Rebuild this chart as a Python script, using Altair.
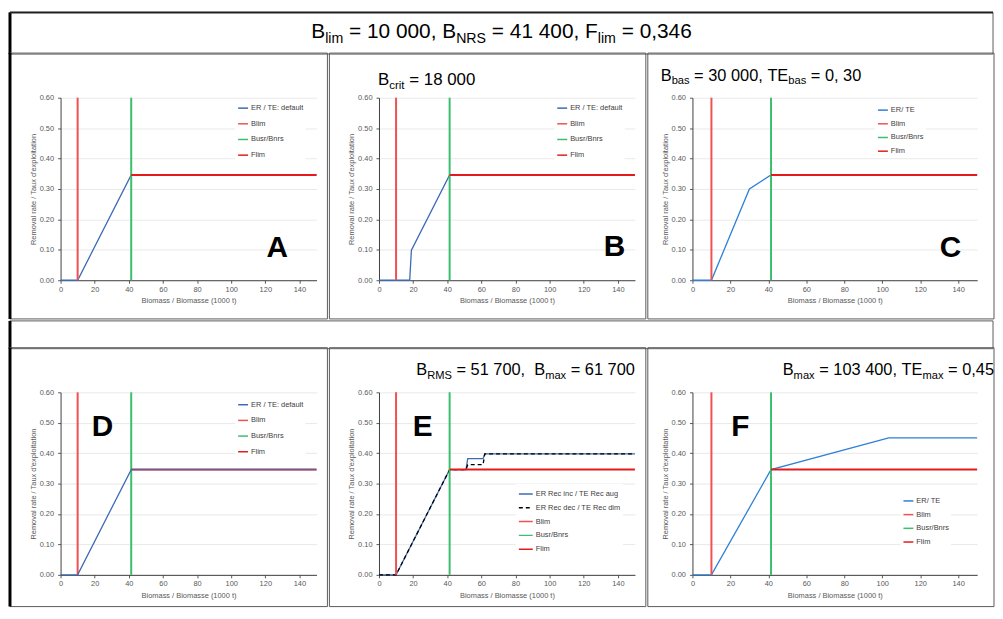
import altair as alt
import pandas as pd

FONT = "Liberation Sans"

# ---------------- data ----------------
X_DOMAIN = [0, 150]
Y_DOMAIN = [0, 0.6]
x_ticks = [0, 20, 40, 60, 80, 100, 120, 140]
y_ticks = [0.0, 0.1, 0.2, 0.3, 0.4, 0.5, 0.6]
X_TITLE = "Biomass / Biomasse (1000 t)"
Y_TITLE = "Removal rate / Taux d'exploitation"

# harvest control rules (biomass in 1000 t, removal rate)
er_default_x = [0, 10, 41.4, 150]
er_default_y = [0, 0, 0.346, 0.346]
er_crit_x = [0, 18, 19, 41.4, 150]
er_crit_y = [0, 0, 0.099, 0.346, 0.346]
er_bas_x = [0, 10, 30, 41.4, 150]
er_bas_y = [0, 0, 0.30, 0.346, 0.346]
er_inc_x = [0, 10, 41.4, 51, 52, 61, 62, 150]
er_inc_y = [0, 0, 0.346, 0.346, 0.382, 0.382, 0.398, 0.398]
er_dec_x = [0, 10, 41.4, 51, 52, 61, 62, 150]
er_dec_y = [0, 0, 0.346, 0.346, 0.362, 0.362, 0.398, 0.398]
er_max_x = [0, 10, 41.4, 103.4, 150]
er_max_y = [0, 0, 0.346, 0.45, 0.45]

# reference lines
blim_x = [10, 10]
blim_y = [0, 0.6]
busr_x = [41.4, 41.4]
busr_y = [0, 0.6]
flim_x = [41.4, 150]
flim_y = [0.346, 0.346]

labels_default = ["ER / TE: default", "Blim", "Busr/Bnrs", "Flim"]
labels_te = ["ER/ TE", "Blim", "Busr/Bnrs", "Flim"]
labels_rec = ["ER Rec inc / TE Rec aug", "ER Rec dec / TE Rec dim", "Blim", "Busr/Bnrs", "Flim"]

panel_letters = ["A", "B", "C", "D", "E", "F"]
letter_x = [127, 138, 136, 24.6, 25.6, 25.2]
letter_y = [0.076, 0.08, 0.077, 0.457, 0.457, 0.457]

title_segments = [("B", 0), ("lim", 1), (" = 10 000, B", 0), ("NRS", 1), (" = 41 400, F", 0), ("lim", 1), (" = 0,346", 0)]
formula_B = [("B", 0), ("crit", 1), (" = 18 000", 0)]
formula_C = [("B", 0), ("bas", 1), (" = 30 000, TE", 0), ("bas", 1), (" = 0, 30", 0)]
formula_E = [("B", 0), ("RMS", 1), (" = 51 700,  B", 0), ("max", 1), (" = 61 700", 0)]
formula_F = [("B", 0), ("max", 1), (" = 103 400, TE", 0), ("max", 1), (" = 0,45", 0)]

# ---------------- styles ----------------
BLUE = "#3D6BB3"
BLUE2 = "#2E7FD6"
RED_B = "#F25050"
RED_F = "#E41B1B"
GREEN = "#3BBF6E"
BORDER = "#5a5a5a"

# Liberation Sans (Arial metrics) advance widths / 1000 em
ADV = {" ": 278, ",": 278, "=": 584, "B": 667, "E": 667, "F": 611, "M": 833, "N": 722,
       "R": 722, "S": 667, "T": 611, "a": 556, "b": 556, "c": 500, "i": 222, "l": 222,
       "m": 833, "r": 333, "s": 500, "t": 278, "x": 500}
for d in "0123456789":
    ADV[d] = 556
SUB = 0.68


def layout_tokens(segs, size):
    out = []
    x = 0.0
    for text, sub in segs:
        fs = size * SUB if sub else size
        word, wx = "", x
        for ch in text:
            w = ADV.get(ch, 556) / 1000 * fs
            if ch == " ":
                if word:
                    out.append({"t": word, "px": wx, "sub": sub})
                    word = ""
                x += w
            else:
                if not word:
                    wx = x
                word += ch
                x += w
        if word:
            out.append({"t": word, "px": wx, "sub": sub})
    return out, x


one = pd.DataFrame({"a": [1]})


def lines_df(series):
    rows = []
    for lab, xs, ys in series:
        for i, (xv, yv) in enumerate(zip(xs, ys)):
            rows.append({"series": lab, "x": xv, "y": yv, "i": i})
    return pd.DataFrame(rows)


def border_layers(x1, x2, y1, y2, thick_left=False, thick_top=False):
    layers = [alt.Chart(one).mark_rect(fill="transparent", stroke=BORDER, strokeWidth=1).encode(
        x=alt.value(x1), x2=alt.value(x2), y=alt.value(y1), y2=alt.value(y2))]
    if thick_left:
        layers.append(alt.Chart(one).mark_rule(color="black", strokeWidth=3).encode(
            x=alt.value(x1), y=alt.value(y1), y2=alt.value(y2)))
    if thick_top:
        layers.append(alt.Chart(one).mark_rule(color="#222", strokeWidth=2).encode(
            x=alt.value(x1), x2=alt.value(x2), y=alt.value(y1)))
    return layers


def panel(k, er_series, labels, colors, w, h, cell, leg, formula=None, dashes=None, thick=False,
          er_on_top=False):
    X = alt.X("x:Q", scale=alt.Scale(domain=X_DOMAIN, nice=False, zero=False),
              axis=alt.Axis(values=x_ticks, title=X_TITLE, grid=False, labelFlush=False))
    Y = alt.Y("y:Q", scale=alt.Scale(domain=Y_DOMAIN, nice=False, zero=False),
              axis=alt.Axis(values=y_ticks, format=".2f", title=Y_TITLE, grid=True))
    legend = alt.Legend(title=None, orient="none", legendX=leg[0], legendY=leg[1],
                        symbolType="stroke", symbolSize=leg[2], symbolStrokeWidth=1.5,
                        rowPadding=leg[3], padding=2, labelFont=FONT, labelFontSize=7.5,
                        labelColor="#404040", labelOffset=2, fillColor="white")
    enc = dict(x=X, y=Y,
               color=alt.Color("series:N", scale=alt.Scale(domain=labels, range=colors), legend=legend),
               order=alt.Order("i:Q"))
    if dashes:
        enc["strokeDash"] = alt.StrokeDash("series:N", scale=alt.Scale(domain=labels, range=dashes),
                                           legend=legend)
    refs = [(labels[-3], blim_x, blim_y), (labels[-2], busr_x, busr_y), (labels[-1], flim_x, flim_y)]
    layers = border_layers(*cell, thick_left=thick)
    er_layer = alt.Chart(lines_df(er_series)).mark_line(strokeWidth=1.3).encode(**enc)
    ref_layer = alt.Chart(lines_df(refs)).mark_line(strokeWidth=2).encode(**enc)
    layers += [ref_layer, er_layer] if er_on_top else [er_layer, ref_layer]
    ldf = pd.DataFrame({"t": [panel_letters[k]], "x": [letter_x[k]], "y": [letter_y[k]]})
    layers.append(alt.Chart(ldf).mark_text(font=FONT, fontSize=30, fontWeight="bold", color="black",
                                           align="center", baseline="alphabetic").encode(x=X, y=Y, text="t:N"))
    if formula:
        segs, size, ax, ay, anchor = formula
        toks, tw = layout_tokens(segs, size)
        x0 = ax if anchor == "left" else ax - tw
        rows = []
        for t in toks:
            px = x0 + t["px"]
            py = ay + (0.22 * size if t["sub"] else 0)
            rows.append({"t": t["t"], "x": px / w * X_DOMAIN[1], "y": Y_DOMAIN[1] * (1 - py / h), "sub": t["sub"]})
        fdf = pd.DataFrame(rows)
        layers.append(alt.Chart(fdf[fdf["sub"] == 0]).mark_text(
            font=FONT, fontSize=size, color="black", align="left", baseline="alphabetic").encode(x=X, y=Y, text="t:N"))
        layers.append(alt.Chart(fdf[fdf["sub"] == 1]).mark_text(
            font=FONT, fontSize=size * SUB, color="black", align="left", baseline="alphabetic").encode(x=X, y=Y, text="t:N"))
    return alt.layer(*layers).properties(width=w, height=h)


W12, W3, H = 258, 287, 184
ROW1 = (-45, 223)
ROW2 = (-45, 216)
col_colors = [BLUE, RED_B, GREEN, RED_F]
col_colors2 = [BLUE2, RED_B, GREEN, RED_F]

pA = panel(0, [(labels_default[0], er_default_x, er_default_y)], labels_default, col_colors,
           W12, H, (-51, 269) + ROW1, (176, 2.5, 100, 5.8), thick=True)
pB = panel(1, [(labels_default[0], er_crit_x, er_crit_y)], labels_default, col_colors,
           W12, H, (-50, 269) + ROW1, (176.7, 2.5, 100, 5.8), formula=(formula_B, 17, -1, -13, "left"))
pC = panel(2, [(labels_te[0], er_bas_x, er_bas_y)], labels_te, col_colors2,
           W3, H, (-45, 304) + ROW1, (184, 4.5, 100, 3.8), formula=(formula_C, 16.5, -32, -17, "left"))
pD = panel(3, [(labels_default[0], er_default_x, er_default_y)], labels_default, col_colors,
           W12, H, (-51, 269) + ROW2, (176, 4.5, 100, 5.8), thick=True, er_on_top=True)
pE = panel(4, [(labels_rec[0], er_inc_x, er_inc_y), (labels_rec[1], er_dec_x, er_dec_y)], labels_rec,
           [BLUE, "#000000", RED_B, GREEN, RED_F],
           W12, H, (-50, 269) + ROW2, (138, 92.5, 196, 1.9), formula=(formula_E, 16.5, 258, -17, "right"),
           dashes=[[1, 0], [4, 3], [1, 0], [1, 0], [1, 0]])
pF = panel(5, [(labels_te[0], er_max_x, er_max_y)], labels_te, col_colors2,
           W3, H, (-45, 304) + ROW2, (209.7, 101.5, 100, 3.8), formula=(formula_F, 16.5, 304, -17, "right"))

# title row (origin aligned with first panel's plot origin)
TL, TR, TH = -51, 940, 42
TFS = 21
toks, tw = layout_tokens(title_segments, TFS)
tx0 = 444.5 - tw / 2
trows = [{"t": t["t"], "x": tx0 + t["px"], "y": 26 + (0.22 * TFS if t["sub"] else 0), "sub": t["sub"]} for t in toks]
tdf = pd.DataFrame(trows)
TX = alt.X("x:Q", scale=alt.Scale(domain=[0, TR], nice=False, zero=False), axis=None)
TY = alt.Y("y:Q", scale=alt.Scale(domain=[0, TH], nice=False, zero=False, reverse=True), axis=None)
title = alt.layer(
    *border_layers(TL, TR, 0, TH, thick_left=True, thick_top=True),
    alt.Chart(tdf[tdf["sub"] == 0]).mark_text(font=FONT, fontSize=TFS, color="black", align="left",
                                              baseline="alphabetic").encode(x=TX, y=TY, text="t:N"),
    alt.Chart(tdf[tdf["sub"] == 1]).mark_text(font=FONT, fontSize=TFS * SUB, color="black", align="left",
                                              baseline="alphabetic").encode(x=TX, y=TY, text="t:N"),
).properties(width=TR, height=TH)

spacer = alt.layer(*border_layers(TL, TR, 0, 28, thick_left=True)).properties(width=TR, height=28)

res = dict(color="independent", strokeDash="independent")
row1 = alt.hconcat(pA, pB, pC, spacing=0).resolve_scale(**res).resolve_legend(**res)
row2 = alt.hconcat(pD, pE, pF, spacing=0).resolve_scale(**res).resolve_legend(**res)

chart = alt.vconcat(title, row1, spacer, row2, spacing=-5).resolve_scale(**res).resolve_legend(**res).properties(
    padding=0
).configure_view(stroke=None).configure_axis(
    labelFont=FONT, labelFontSize=7.5, labelColor="#595959",
    titleFont=FONT, titleFontSize=7.5, titleFontWeight="normal", titleColor="#595959",
    domainColor="#404040", domainWidth=1, tickColor="#595959", tickSize=3,
    gridColor="#E3E3E3", gridWidth=0.8,
).configure_axisX(labelPadding=2, titlePadding=4).configure_axisY(labelPadding=4, titlePadding=2)

chart.save("out.html", embed_options={"renderer": "svg", "actions": False})
